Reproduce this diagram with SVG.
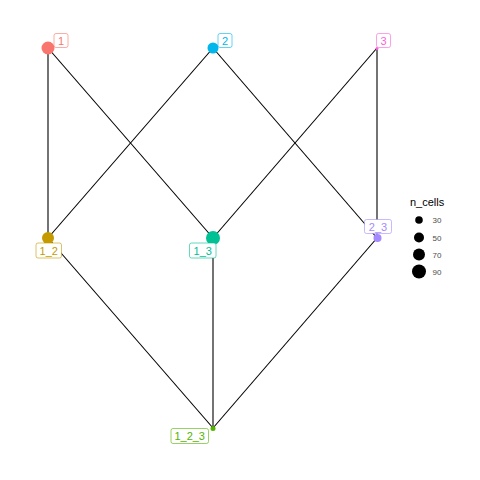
<svg xmlns="http://www.w3.org/2000/svg" width="480" height="480" viewBox="0 0 480 480">
<style>
.e{stroke:#000;stroke-width:1.1;fill:none}
.lb{fill:#fff;stroke-width:1;stroke-opacity:0.6}
.lt{font-family:"Liberation Sans",Arial,sans-serif;font-size:11px;text-anchor:middle}
.lg{font-family:"Liberation Sans",Arial,sans-serif;font-size:8px;fill:#4d4d4d}
</style>
<rect width="480" height="480" fill="#fff"/>
<g id="connectors">
<line class="e" x1="48" y1="48" x2="48" y2="238"/>
<line class="e" x1="48" y1="48" x2="213" y2="238"/>
<line class="e" x1="213" y1="48" x2="48" y2="238"/>
<line class="e" x1="213" y1="48" x2="377" y2="238"/>
<line class="e" x1="377" y1="48" x2="213" y2="238"/>
<line class="e" x1="377" y1="48" x2="377" y2="238"/>
<line class="e" x1="48" y1="238" x2="213" y2="428"/>
<line class="e" x1="213" y1="238" x2="213" y2="428"/>
<line class="e" x1="377" y1="238" x2="213" y2="428"/>
</g>
<g id="node-1">
<circle cx="48" cy="48" r="6.5" fill="#F8766D"/>
<rect class="lb" x="54" y="33.5" width="14" height="14" rx="2" stroke="#F8766D"/>
<text class="lt" x="61" y="44.5" fill="#F8766D">1</text>
</g>
<g id="node-2">
<circle cx="213" cy="48" r="5.5" fill="#00B6EB"/>
<rect class="lb" x="218" y="33.5" width="14" height="14" rx="2" stroke="#00B6EB"/>
<text class="lt" x="225" y="44.5" fill="#00B6EB">2</text>
</g>
<g id="node-3">
<circle cx="377" cy="48.5" r="1.5" fill="#FB61D7"/>
<rect class="lb" x="376.5" y="33.5" width="14" height="14" rx="2" stroke="#FB61D7"/>
<text class="lt" x="383.5" y="44.5" fill="#FB61D7">3</text>
</g>
<g id="node-1_2">
<circle cx="48" cy="238" r="6" fill="#C49A00"/>
<rect class="lb" x="36" y="243" width="25.5" height="15" rx="2" stroke="#C49A00"/>
<text class="lt" x="48.7" y="254.5" fill="#C49A00">1_2</text>
</g>
<g id="node-1_3">
<circle cx="213" cy="238" r="7" fill="#00C094"/>
<rect class="lb" x="189.5" y="243" width="26.5" height="15" rx="2" stroke="#00C094"/>
<text class="lt" x="202.7" y="254.5" fill="#00C094">1_3</text>
</g>
<g id="node-2_3">
<circle cx="377.5" cy="238" r="4" fill="#A58AFF"/>
<rect class="lb" x="364.5" y="219.5" width="27" height="14" rx="2" stroke="#A58AFF"/>
<text class="lt" x="378" y="230.5" fill="#A58AFF">2_3</text>
</g>
<g id="node-1_2_3">
<circle cx="213" cy="428.5" r="2.5" fill="#53B400"/>
<rect class="lb" x="171" y="428.5" width="37.5" height="15" rx="2" stroke="#53B400"/>
<text class="lt" x="189.7" y="440" fill="#53B400">1_2_3</text>
</g>
<g id="legend">
<text x="410" y="206" font-family="Liberation Sans,Arial,sans-serif" font-size="11px" fill="#000">n_cells</text>
<circle cx="419" cy="220" r="3.8" fill="#000"/>
<circle cx="419" cy="237.5" r="5" fill="#000"/>
<circle cx="419" cy="254.5" r="6" fill="#000"/>
<circle cx="419" cy="271.5" r="7" fill="#000"/>
<text class="lg" x="432.5" y="223">30</text>
<text class="lg" x="432.5" y="240.5">50</text>
<text class="lg" x="432.5" y="257.5">70</text>
<text class="lg" x="432.5" y="274.5">90</text>
</g>
</svg>
